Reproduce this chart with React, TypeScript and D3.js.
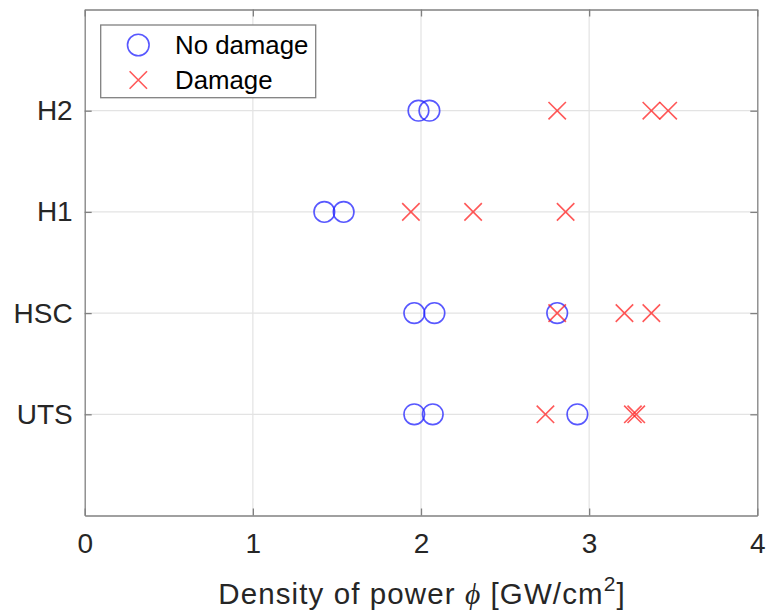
import React, { useEffect, useRef } from "react"
import * as d3 from "d3"

// categories on the y axis, bottom to top
const categories = ["UTS", "HSC", "H1", "H2"]
const xTicks = [0, 1, 2, 3, 4]

// "No damage" points (circles)
const noDamageCat = ["UTS", "UTS", "UTS", "HSC", "HSC", "HSC", "H1", "H1", "H2", "H2"]
const noDamageVal = [1.96, 2.07, 2.93, 1.96, 2.08, 2.81, 1.425, 1.54, 1.985, 2.05]

// "Damage" points (crosses)
const damageCat = ["UTS", "UTS", "UTS", "HSC", "HSC", "HSC", "H1", "H1", "H1", "H2", "H2", "H2"]
const damageVal = [2.74, 3.26, 3.28, 2.81, 3.21, 3.37, 1.94, 2.31, 2.86, 2.81, 3.37, 3.47]

const legendLabels = ["No damage", "Damage"]

const W = 766
const H = 614
const margin = { top: 9.5, right: 8.7, bottom: 98.5, left: 84.7 }
const font = "'Liberation Sans', Arial, Helvetica, sans-serif"
const textColor = "#262626"
const axisColor = "#808080"
const blue = "#2020ff"
const red = "#ff2020"

const App = () => {
  const ref = useRef<SVGSVGElement | null>(null)

  useEffect(() => {
    const svg = d3.select(ref.current)
    svg.selectAll("*").remove()

    const x0 = margin.left
    const x1 = W - margin.right
    const y0 = H - margin.bottom
    const y1 = margin.top

    const x = d3.scaleLinear().domain([0, 4]).range([x0, x1])
    const y = d3.scalePoint<string>().domain(categories).range([y0, y1]).padding(1)

    const g = svg.append("g")

    // grid
    g.append("g")
      .selectAll("line")
      .data(xTicks.slice(1, -1))
      .join("line")
      .attr("x1", (d) => x(d))
      .attr("x2", (d) => x(d))
      .attr("y1", y1)
      .attr("y2", y0)
      .attr("stroke", "#e3e3e3")
      .attr("stroke-width", 1.2)
    g.append("g")
      .selectAll("line")
      .data(categories)
      .join("line")
      .attr("x1", x0)
      .attr("x2", x1)
      .attr("y1", (d) => y(d)!)
      .attr("y2", (d) => y(d)!)
      .attr("stroke", "#e3e3e3")
      .attr("stroke-width", 1.2)

    // axes (ticks inside, box on)
    const tickLen = 7
    const bottom = g.append("g").attr("transform", `translate(0,${y0})`)
      .call(d3.axisBottom(x).tickValues(xTicks).tickSizeInner(-tickLen).tickSizeOuter(0).tickPadding(20).tickFormat(d3.format("d")))
    const top = g.append("g").attr("transform", `translate(0,${y1})`)
      .call(d3.axisTop(x).tickValues(xTicks).tickSizeInner(-tickLen).tickSizeOuter(0).tickFormat(() => ""))
    const left = g.append("g").attr("transform", `translate(${x0},0)`)
      .call(d3.axisLeft(y).tickSizeInner(-tickLen).tickSizeOuter(0).tickPadding(12))
    const right = g.append("g").attr("transform", `translate(${x1},0)`)
      .call(d3.axisRight(y).tickSizeInner(-tickLen).tickSizeOuter(0).tickFormat(() => ""))

    ;[bottom, top, left, right].forEach((a) => {
      a.selectAll("path").attr("stroke", axisColor).attr("stroke-width", 1.3)
      a.selectAll("line").attr("stroke", axisColor).attr("stroke-width", 1.3)
      a.selectAll("text").attr("fill", textColor).attr("font-family", font).attr("font-size", 28)
    })
    bottom.selectAll("text").attr("dy", "0.71em").attr("y", 18)

    // x label
    const label = g.append("text")
      .attr("x", (x0 + x1) / 2 + 1)
      .attr("y", 604)
      .attr("text-anchor", "middle")
      .attr("font-family", font)
      .attr("font-size", 29.5)
      .attr("letter-spacing", 1.1)
      .attr("fill", textColor)
    label.append("tspan").text("Density of power ")
    label.append("tspan").attr("font-family", "'Liberation Serif', serif").attr("font-style", "italic").text("ϕ")
    label.append("tspan").text(" [GW/cm")
    label.append("tspan").attr("font-size", 21).attr("dy", -13).text("2")
    label.append("tspan").attr("dy", 13).text("]")

    // no damage circles
    g.append("g")
      .selectAll("circle")
      .data(noDamageVal.map((v, i) => ({ v, c: noDamageCat[i] })))
      .join("circle")
      .attr("cx", (d) => x(d.v))
      .attr("cy", (d) => y(d.c)!)
      .attr("r", 10.3)
      .attr("fill", "none")
      .attr("stroke", blue)
      .attr("stroke-opacity", 0.75)
      .attr("stroke-width", 1.6)

    // damage crosses
    const cross = d3.symbol(d3.symbolX, 200)
    g.append("g")
      .selectAll("path")
      .data(damageVal.map((v, i) => ({ v, c: damageCat[i] })))
      .join("path")
      .attr("transform", (d) => `translate(${x(d.v)},${y(d.c)})`)
      .attr("d", cross())
      .attr("fill", "none")
      .attr("stroke", red)
      .attr("stroke-opacity", 0.75)
      .attr("stroke-width", 1.6)

    // legend
    const lg = g.append("g")
    lg.append("rect")
      .attr("x", 100.7)
      .attr("y", 25)
      .attr("width", 215)
      .attr("height", 72.7)
      .attr("fill", "white")
      .attr("stroke", axisColor)
      .attr("stroke-width", 1.3)
    const rows = lg.selectAll("g.row").data(legendLabels).join("g")
      .attr("class", "row")
      .attr("transform", (_, i) => `translate(0,${45 + i * 35})`)
    rows.filter((_, i) => i === 0).append("circle")
      .attr("cx", 138.3).attr("cy", 0).attr("r", 10.8)
      .attr("fill", "none").attr("stroke", blue).attr("stroke-opacity", 0.75).attr("stroke-width", 1.6)
    rows.filter((_, i) => i === 1).append("path")
      .attr("transform", "translate(138.3,0)")
      .attr("d", cross())
      .attr("fill", "none").attr("stroke", red).attr("stroke-opacity", 0.75).attr("stroke-width", 1.6)
    rows.append("text")
      .attr("x", 175)
      .attr("y", 0)
      .attr("dy", "0.36em")
      .attr("font-family", font)
      .attr("font-size", 25.8)
      .attr("fill", "#000")
      .text((d) => d)
  }, [])

  return (
    <svg
      ref={ref}
      width={W}
      height={H}
      style={{ position: "absolute", left: 0, top: 0, background: "white" }}
    ></svg>
  )
}

export default App
